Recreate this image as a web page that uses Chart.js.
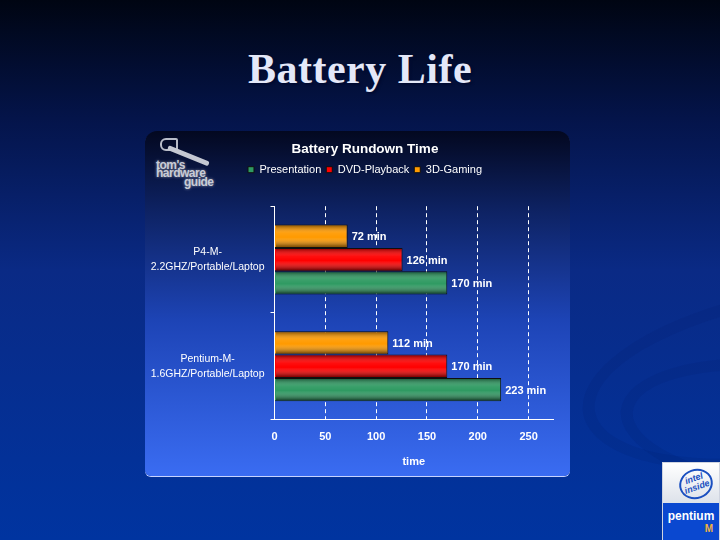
<!DOCTYPE html>
<html>
<head>
<meta charset="utf-8">
<title>Battery Life</title>
<script src="https://cdn.jsdelivr.net/npm/chart.js@4.4.0/dist/chart.umd.min.js"></script>
<style>
html,body{margin:0;padding:0;}
body{width:720px;height:540px;overflow:hidden;position:relative;
  background:linear-gradient(180deg,#000512 0%,#04144a 22%,#0a2a85 50%,#0034a0 100%);
  font-family:Arial,"Liberation Sans",sans-serif;}
.swoosh{position:absolute;border-radius:50%;border:12px solid rgba(0,25,100,0.12);}
#title{position:absolute;left:0;top:48px;width:720px;text-align:center;line-height:42px;
  font-family:"Times New Roman","Liberation Serif",serif;font-weight:bold;font-size:42px;
  letter-spacing:0.5px;color:#e4e8f8;text-shadow:2px 2px 2px #000a30;}
#panel{position:absolute;left:145px;top:131px;width:425px;height:345px;border-radius:12px 12px 6px 6px;
  background:linear-gradient(180deg,#030820 0%,#0d2160 22%,#1d44b6 55%,#3a6cf2 100%);overflow:hidden;
  box-shadow:0 1px 0 #c8d4ff;}
#wrap{position:absolute;left:0;top:0;width:425px;height:345px;}
#toms{position:absolute;left:9px;top:5px;width:66px;height:56px;color:#c9ccd6;font-weight:bold;
  font-size:12px;line-height:9px;letter-spacing:-0.5px;text-shadow:0 0 3px #fff8;}
#toms .head{position:absolute;left:6px;top:2px;width:14px;height:9px;border:2px solid #b8bcc8;border-radius:6px 2px 2px 6px;}
#toms .handle{position:absolute;left:14px;top:9px;width:44px;height:5px;background:#c4c8d2;border-radius:2px;transform:rotate(22deg);transform-origin:left center;}
#toms .t{position:absolute;left:2px;top:25px;}
#toms .h{position:absolute;left:2px;top:33px;}
#toms .g{position:absolute;left:30px;top:42px;}
#intel{position:absolute;left:662px;top:462px;width:56px;height:78px;background:#fff;border:1px solid #cfd4e0;}
#intel .top{height:40px;background:linear-gradient(180deg,#ffffff,#dde2ea);position:relative;}
#intel .oval{position:absolute;left:16px;top:6px;width:30px;height:26px;border:2px solid #1a4fc0;border-radius:50%;
  transform:rotate(-20deg);color:#1a4fc0;font-style:italic;font-weight:bold;font-size:9px;line-height:9px;text-align:center;}
#intel .oval span{display:block;}
#intel .oval span:first-child{margin-top:3px;}
#intel .bot{height:38px;background:#0a48d0;color:#fff;font-weight:bold;font-size:12px;text-align:center;padding-top:6px;box-sizing:border-box;}
#intel .m{color:#f0b040;font-size:10px;text-align:right;padding-right:6px;}
</style>
</head>
<body>
<div class="swoosh" style="left:580px;top:290px;width:400px;height:150px;transform:rotate(-10deg);"></div>
<div class="swoosh" style="left:620px;top:360px;width:300px;height:110px;transform:rotate(6deg);"></div>
<div id="title">Battery Life</div>
<div id="panel">
  <div id="toms"><div class="head"></div><div class="handle"></div><div class="t">tom's</div><div class="h">hardware</div><div class="g">guide</div></div>
  <div id="wrap"><canvas id="chart"></canvas></div>
</div>
<div id="intel">
  <div class="top"><div class="oval"><span>intel</span><span>inside</span></div></div>
  <div class="bot">pentium<div class="m">M</div></div>
</div>
<script>
// Chart data (minutes of battery life)
const categories = [['P4-M-','2.2GHZ/Portable/Laptop'], ['Pentium-M-','1.6GHZ/Portable/Laptop']];
const seriesNames = ['3D-Gaming','DVD-Playback','Presentation'];
const gaming3d = [72, 112];
const dvdPlayback = [126, 170];
const presentation = [170, 223];
const xTicks = [0, 50, 100, 150, 200, 250];
const xMax = 274;
const colors = ['#ff9a00','#ff0000','#2f9a62'];

const FONT = 'Arial, "Liberation Sans", sans-serif';

// shade each bar: darker top/bottom edges, light middle
const barShade = {
  id:'barShade',
  afterDatasetsDraw(chart){
    const ctx = chart.ctx;
    chart.data.datasets.forEach((ds,i)=>{
      chart.getDatasetMeta(i).data.forEach(el=>{
        const l = Math.min(el.base, el.x)+1, r = Math.max(el.base, el.x)-1;
        const t = el.y - el.height/2 + 1, b = el.y + el.height/2 - 1;
        const g = ctx.createLinearGradient(0, t, 0, b);
        g.addColorStop(0, 'rgba(0,0,0,0.40)');
        g.addColorStop(0.35, 'rgba(255,255,255,0.06)');
        g.addColorStop(0.55, 'rgba(255,255,255,0.0)');
        g.addColorStop(1, 'rgba(0,0,0,0.55)');
        ctx.save(); ctx.fillStyle = g; ctx.fillRect(l, t, r-l, b-t); ctx.restore();
      });
    });
  }
};

// "xx min" labels at bar ends
const valueLabels = {
  id:'valueLabels',
  afterDatasetsDraw(chart){
    const ctx = chart.ctx;
    ctx.save();
    ctx.font = 'bold 11px ' + FONT; ctx.fillStyle = '#fff'; ctx.textBaseline = 'middle';
    chart.data.datasets.forEach((ds,i)=>{
      chart.getDatasetMeta(i).data.forEach((el,j)=>{ ctx.fillText(ds.data[j] + ' min', el.x + 4, el.y + 1); });
    });
    ctx.restore();
  }
};

// extra space under the legend, and title/legend moved a bit right
const legendGap = {
  id:'legendGap',
  beforeInit(chart){
    const fit = chart.legend.fit;
    chart.legend.fit = function(){ fit.bind(chart.legend)(); this.height += 21; };
  },
  beforeDraw(chart){
    [chart.legend, chart.titleBlock].forEach(b=>{ if (!b._moved){ b.left += 14; b.right += 14; b._moved = true; } });
  },
  afterLayout(chart){ [chart.legend, chart.titleBlock].forEach(b=>{ b._moved = false; }); }
};

new Chart(document.getElementById('chart'), {
  type:'bar',
  data:{
    labels: categories,
    datasets:[
      { label: seriesNames[0], data: gaming3d, backgroundColor: colors[0] },
      { label: seriesNames[1], data: dvdPlayback, backgroundColor: colors[1] },
      { label: seriesNames[2], data: presentation, backgroundColor: colors[2] }
    ].map(d=>Object.assign(d,{borderColor:'#101010', borderWidth:1, categoryPercentage:0.655, barPercentage:1}))
  },
  options:{
    indexAxis:'y', responsive:true, maintainAspectRatio:false, animation:false,
    layout:{ padding:{ left:4, right:17, top:0, bottom:5 } },
    plugins:{
      title:{ display:true, text:'Battery Rundown Time', color:'#fff', font:{ family:FONT, size:13.5, weight:'bold' }, padding:{ top:10, bottom:2 } },
      legend:{ reverse:true, labels:{ color:'#fff', font:{ family:FONT, size:11 }, boxWidth:6, boxHeight:6, padding:5 } },
      tooltip:{ enabled:false }
    },
    scales:{
      x:{
        min:0, max:xMax,
        afterBuildTicks: s => { s.ticks = xTicks.map(v=>({value:v})); },
        grid:{ color:'#fff', lineWidth:1, drawTicks:false },
        border:{ display:true, color:'#fff', width:1, dash:[4,3] },
        ticks:{ color:'#fff', padding:11, font:{ family:FONT, size:11, weight:'bold' } },
        title:{ display:true, text:'time', color:'#fff', font:{ family:FONT, size:11, weight:'bold' }, padding:{ top:1, bottom:2 } }
      },
      y:{
        afterFit: s => { s.width = 125.5; },
        grid:{ color:'#fff', drawOnChartArea:false, drawTicks:true, tickLength:4, offset:true },
        border:{ display:true, color:'#fff', width:1 },
        ticks:{ color:'#fff', crossAlign:'center', padding:6, font:{ family:FONT, size:10.5, lineHeight:1.45 } }
      }
    }
  },
  plugins:[legendGap, barShade, valueLabels]
});
</script>
</body>
</html>
